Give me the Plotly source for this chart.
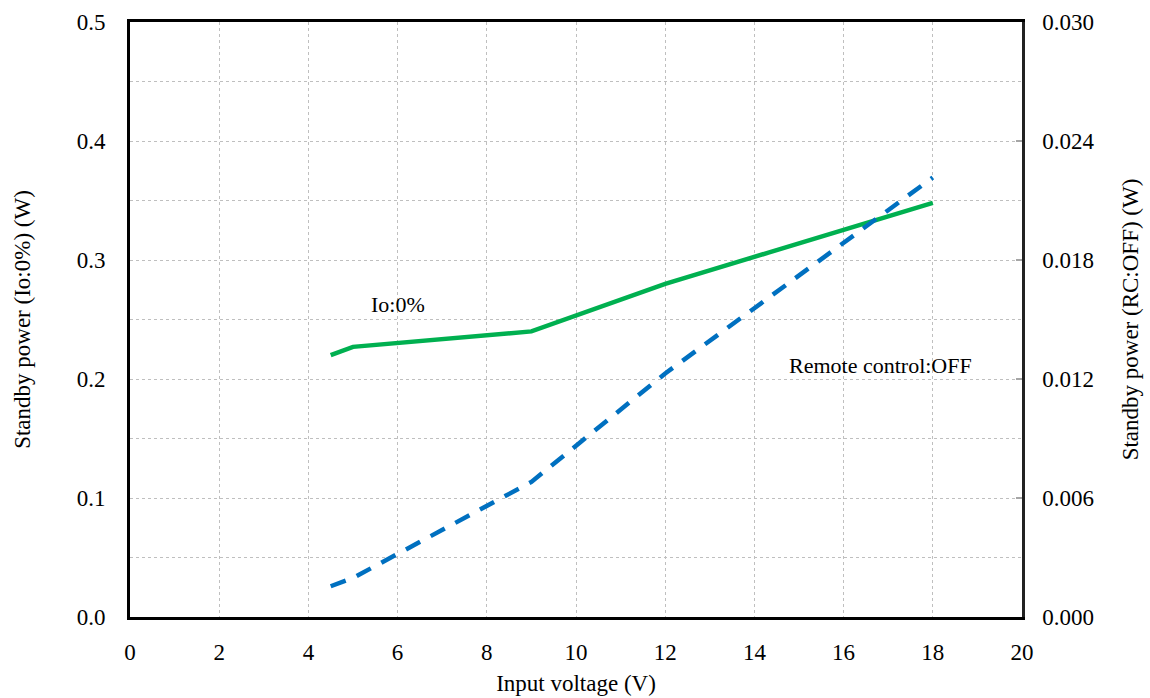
import plotly.graph_objects as go

# Input voltage sweep (V)
voltage = [4.5, 5, 9, 12, 18]
# Standby power with no output load (W), left axis
power_io0 = [0.220, 0.227, 0.240, 0.280, 0.348]
# Standby power with remote control OFF (W), right axis
power_rc_off = [0.00155, 0.00197, 0.00681, 0.01228, 0.02216]

x_ticks = list(range(0, 21, 2))
left_ticks = [0.0, 0.1, 0.2, 0.3, 0.4, 0.5]
right_ticks = [0.000, 0.006, 0.012, 0.018, 0.024, 0.030]

FONT = "Liberation Serif, Times New Roman, serif"
GRID = "#bfbfbf"

fig = go.Figure()
fig.add_trace(go.Scatter(
    x=voltage, y=power_io0, mode="lines", name="Io:0%",
    line=dict(color="#00B050", width=4.5),
))
fig.add_trace(go.Scatter(
    x=voltage, y=power_rc_off, mode="lines", name="Remote control:OFF",
    line=dict(color="#0070C0", width=4.5, dash="16px,12px"),
    yaxis="y2",
))

fig.add_annotation(x=6.0, y=0.263, text="Io:0%", showarrow=False,
                   font=dict(family=FONT, size=22, color="black"))
fig.add_annotation(x=16.82, y=0.2116, text="Remote control:OFF", showarrow=False,
                   font=dict(family=FONT, size=22, color="black"))

fig.update_layout(
    width=1150, height=698,
    margin=dict(l=130, r=128, t=22, b=81),
    paper_bgcolor="white", plot_bgcolor="white",
    showlegend=False,
    font=dict(family=FONT, size=23, color="black"),
    xaxis=dict(
        range=[0, 20], tickvals=x_ticks, ticktext=[str(v) for v in x_ticks],
        showgrid=True, gridcolor=GRID, griddash="dot", gridwidth=1,
        showline=True, linecolor="black", linewidth=3, mirror=True,
        ticks="", ticklabelstandoff=12, zeroline=False, automargin=False,
        title=dict(text="Input voltage (V)", standoff=12,
                   font=dict(family=FONT, size=23)),
    ),
    yaxis=dict(
        range=[0, 0.5], tickvals=left_ticks,
        ticktext=[f"{v:.1f}" for v in left_ticks],
        showgrid=True, gridcolor=GRID, griddash="dot", gridwidth=1,
        minor=dict(dtick=0.05, tick0=0, showgrid=True, gridcolor=GRID,
                   griddash="dot", gridwidth=1),
        showline=True, linecolor="black", linewidth=3, mirror=True,
        ticks="", ticklabelstandoff=17, zeroline=False, automargin=False,
        title=dict(text="Standby power (Io:0%) (W)", standoff=40,
                   font=dict(family=FONT, size=23)),
    ),
    yaxis2=dict(
        range=[0, 0.03], tickvals=right_ticks,
        ticktext=[f"{v:.3f}" for v in right_ticks],
        overlaying="y", side="right", anchor="x",
        showgrid=False, zeroline=False, automargin=False,
        showline=True, linecolor="#222222", linewidth=2.5,
        ticks="inside", ticklen=6, tickcolor="#a6a6a6", tickwidth=1.5,
        ticklabelstandoff=13,
        title=dict(text="Standby power (RC:OFF) (W)", standoff=29,
                   font=dict(family=FONT, size=23)),
    ),
)

fig.write_html("out.html")
